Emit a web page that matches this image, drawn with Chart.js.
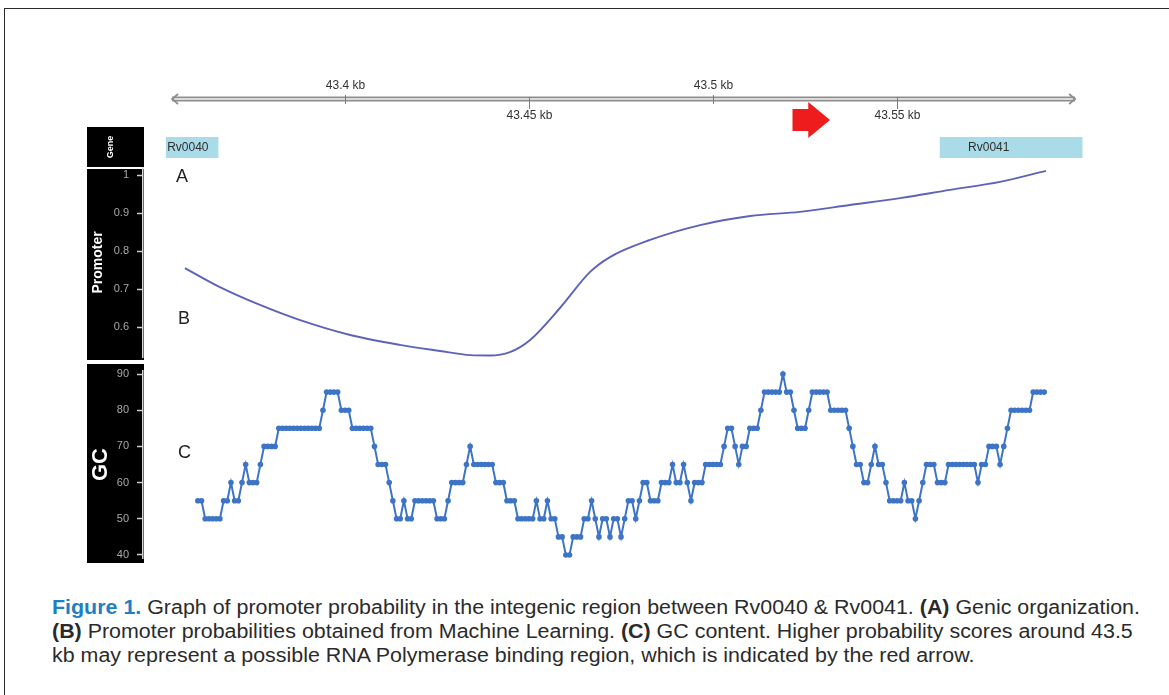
<!DOCTYPE html>
<html>
<head>
<meta charset="utf-8">
<script src="https://cdn.jsdelivr.net/npm/chart.js@4.4.1/dist/chart.umd.min.js"></script>
<style>
  html, body { margin: 0; padding: 0; background: #ffffff; }
  body { width: 1169px; height: 695px; position: relative; overflow: hidden; font-family: "Liberation Sans", Arial, sans-serif; }
  .frame-top { position: absolute; left: 4px; top: 8px; width: 1165px; height: 0; border-top: 1.5px solid #2a2a2a; }
  .frame-left { position: absolute; left: 4px; top: 8px; width: 0; height: 690px; border-left: 1.5px solid #2a2a2a; }
  canvas { position: absolute; left: 0; }
  .panel-letter { position: absolute; font-size: 18px; color: #222; line-height: 20px; }
  .ln { position: absolute; left: 52px; white-space: nowrap; font-size: 20px; line-height: 24px; color: #2b2b2b;
        font-family: "Liberation Sans Narrow", "Liberation Sans", Arial, sans-serif; transform-origin: 0 50%; }
  .ln b { font-weight: bold; }
  .ln .fig { color: #1f7fc4; }
</style>
</head>
<body>
<div class="frame-top"></div>
<div class="frame-left"></div>

<canvas id="geneTrack" width="1169" height="113" style="top:55px"></canvas>
<canvas id="promoterTrack" width="1169" height="198" style="top:164px"></canvas>
<canvas id="gcTrack" width="1169" height="206" style="top:362px"></canvas>

<div class="panel-letter" style="left:176px; top:166px">A</div>
<div class="panel-letter" style="left:178px; top:308px">B</div>
<div class="panel-letter" style="left:178px; top:442px">C</div>

<div class="ln" id="ln1" style="top:595px"><b class="fig">Figure 1.</b> Graph of promoter probability in the integenic region between Rv0040 &amp; Rv0041. <b>(A)</b> Genic organization.</div>
<div class="ln" style="top:619px"><b>(B)</b> Promoter probabilities obtained from Machine Learning. <b>(C)</b> GC content. Higher probability scores around 43.5</div>
<div class="ln" style="top:643px">kb may represent a possible RNA Polymerase binding region, which is indicated by the red arrow.</div>

<script>
// ---- genomic coordinates (kb) ----
const viewStart = 43.3451;
const viewEnd = 43.6038;
const rulerStart = 43.3530;
const rulerEnd = 43.5984;
const rulerTicks = [43.4, 43.45, 43.5, 43.55];
const rulerLabels = ['43.4 kb', '43.45 kb', '43.5 kb', '43.55 kb'];

// ---- genes ----
const geneNames = ['Rv0040', 'Rv0041'];
const geneStarts = [43.3514, 43.5617];
const geneEnds = [43.3655, 43.6003];

// ---- predicted RNA polymerase binding site ----
const arrowStart = 43.5216;
const arrowEnd = 43.5318;

// ---- promoter probability ----
const promoterPos = [43.3565, 43.3660, 43.3769, 43.3878, 43.4014, 43.4149, 43.4258, 43.4340, 43.4394,
                     43.4448, 43.4503, 43.4584, 43.4666, 43.4720, 43.4829, 43.4965, 43.5101, 43.5236,
                     43.5372, 43.5508, 43.5644, 43.5780, 43.5905];
const promoterProb = [0.755, 0.705, 0.658, 0.618, 0.579, 0.553, 0.537, 0.526, 0.525,
                      0.534, 0.566, 0.650, 0.745, 0.784, 0.829, 0.868, 0.892, 0.903,
                      0.921, 0.939, 0.961, 0.982, 1.011];
const promoterTicks = [0.6, 0.7, 0.8, 0.9, 1];

// ---- GC content (%), one window per base ----
const gcStart = 43.360;
const gcStep = 0.001;
const gcValues = [
  55,55,50,50,50,50,50,55,55,60,
  55,55,60,65,60,60,60,65,70,70,
  70,70,75,75,75,75,75,75,75,75,
  75,75,75,75,80,85,85,85,85,80,
  80,80,75,75,75,75,75,75,70,65,
  65,65,60,55,50,50,55,50,50,55,
  55,55,55,55,55,50,50,50,55,60,
  60,60,60,65,70,65,65,65,65,65,
  65,60,60,60,55,55,55,50,50,50,
  50,50,55,50,50,55,50,50,45,45,
  40,40,45,45,45,50,50,55,50,45,
  50,50,45,50,50,45,50,55,55,50,
  55,60,60,55,55,55,60,60,60,65,
  60,60,65,60,55,60,60,60,65,65,
  65,65,65,70,75,75,70,65,70,70,
  75,75,75,80,85,85,85,85,85,90,
  85,85,80,75,75,75,80,85,85,85,
  85,85,80,80,80,80,80,75,70,65,
  65,60,60,65,70,65,65,60,55,55,
  55,55,60,55,55,50,55,60,65,65,
  65,60,60,60,65,65,65,65,65,65,
  65,65,60,65,65,70,70,70,65,70,
  75,80,80,80,80,80,80,85,85,85,
  85
];
const gcTicks = [40, 50, 60, 70, 80, 90];

// ---- shared look ----
const LABEL_BOX_LEFT = 87;
const LABEL_BOX_RIGHT = 144;
const AXIS_WIDTH = 56;
const PAD_RIGHT = 74;
const FONT = '"Liberation Sans", Arial, sans-serif';

// black label column behind a track's y axis
function labelBox(top, bottom) {
  return {
    id: 'labelBox',
    beforeDraw(chart) {
      const ctx = chart.ctx;
      ctx.save();
      ctx.fillStyle = '#000';
      ctx.fillRect(LABEL_BOX_LEFT, top, LABEL_BOX_RIGHT - LABEL_BOX_LEFT, bottom - top);
      ctx.restore();
    }
  };
}

function leftAxis(min, max, ticks, title, titleSize, titlePad, fmt) {
  return {
    min: min, max: max,
    afterBuildTicks: s => { s.ticks = ticks.map(v => ({ value: v })); },
    afterFit: s => { s.width = AXIS_WIDTH; s.paddingTop = 0; s.paddingBottom = 0; },
    border: { display: true, color: '#d8d8d8', width: 1.5 },
    grid: { drawOnChartArea: false, drawTicks: true, color: '#cfcfcf', tickLength: 6, tickWidth: 1.5 },
    ticks: { color: '#a8a8a8', font: { family: FONT, size: 11 }, padding: 8, callback: fmt },
    title: { display: true, text: title, color: '#ffffff', font: { family: FONT, size: titleSize, weight: 'bold' }, padding: { top: titlePad, bottom: 0 } }
  };
}

const baseOpts = {
  responsive: false,
  animation: false,
  devicePixelRatio: 1,
  plugins: { legend: { display: false }, tooltip: { enabled: false } }
};

// ---- gene track with ruler and binding-site arrow ----
const rulerPlugin = {
  id: 'ruler',
  beforeDraw(chart) {
    const ctx = chart.ctx;
    ctx.save();
    ctx.fillStyle = '#000';
    ctx.fillRect(LABEL_BOX_LEFT, 72, LABEL_BOX_RIGHT - LABEL_BOX_LEFT, 40);
    ctx.translate(111, 92);
    ctx.rotate(-Math.PI / 2);
    ctx.fillStyle = '#fff';
    ctx.font = 'bold 9px ' + FONT;
    ctx.textAlign = 'center';
    ctx.textBaseline = 'middle';
    ctx.fillText('Gene', 0, 0);
    ctx.restore();
  },
  afterDatasetsDraw(chart) {
    const ctx = chart.ctx;
    const x = chart.scales.x;
    const y0 = 44;
    const xa = x.getPixelForValue(rulerStart);
    const xb = x.getPixelForValue(rulerEnd);
    ctx.save();
    // double-stroked ruler line
    ctx.lineCap = 'butt';
    ctx.strokeStyle = '#8e8e8e';
    ctx.lineWidth = 5;
    ctx.beginPath(); ctx.moveTo(xa, y0); ctx.lineTo(xb, y0); ctx.stroke();
    ctx.strokeStyle = '#dadada';
    ctx.lineWidth = 2;
    ctx.beginPath(); ctx.moveTo(xa + 2, y0); ctx.lineTo(xb - 2, y0); ctx.stroke();
    // end arrowheads
    ctx.strokeStyle = '#8e8e8e';
    ctx.lineWidth = 1.8;
    ctx.beginPath();
    ctx.moveTo(xa + 6, y0 - 5); ctx.lineTo(xa, y0); ctx.lineTo(xa + 6, y0 + 5);
    ctx.moveTo(xb - 6, y0 - 5); ctx.lineTo(xb, y0); ctx.lineTo(xb - 6, y0 + 5);
    ctx.stroke();
    // ticks and labels, alternating above / below
    ctx.font = '12px ' + FONT;
    ctx.fillStyle = '#333';
    ctx.textAlign = 'center';
    ctx.textBaseline = 'middle';
    rulerTicks.forEach((v, k) => {
      const px = Math.round(x.getPixelForValue(v)) + 0.5;
      const above = k % 2 === 0;
      ctx.strokeStyle = '#7a7a7a';
      ctx.lineWidth = 1;
      ctx.beginPath();
      if (above) { ctx.moveTo(px, y0 - 4); ctx.lineTo(px, y0 + 5); }
      else { ctx.moveTo(px, y0 - 2); ctx.lineTo(px, y0 + 10); }
      ctx.stroke();
      ctx.fillText(rulerLabels[k], px, above ? 31 : 61);
    });
    // gene names
    ctx.font = '12px ' + FONT;
    ctx.fillStyle = '#2f2f2f';
    ctx.textAlign = 'left';
    ctx.fillText(geneNames[0], x.getPixelForValue(geneStarts[0]) + 1, 93);
    ctx.fillText(geneNames[1], x.getPixelForValue(geneStarts[1]) + 28, 93);
    // red arrow at the putative binding region
    const a0 = x.getPixelForValue(arrowStart);
    const a1 = x.getPixelForValue(arrowEnd);
    const neck = a0 + (a1 - a0) * 0.42;
    const cy = 65;
    ctx.fillStyle = '#ee1c1c';
    ctx.beginPath();
    ctx.moveTo(a0, cy - 11);
    ctx.lineTo(neck, cy - 11);
    ctx.lineTo(neck, cy - 18);
    ctx.lineTo(a1, cy);
    ctx.lineTo(neck, cy + 18);
    ctx.lineTo(neck, cy + 11);
    ctx.lineTo(a0, cy + 11);
    ctx.closePath();
    ctx.fill();
    ctx.restore();
  }
};

new Chart(document.getElementById('geneTrack'), {
  type: 'bar',
  data: {
    labels: ['Gene'],
    datasets: geneNames.map((g, k) => ({
      label: g,
      data: [[geneStarts[k], geneEnds[k]]],
      backgroundColor: '#a9dbe8',
      borderWidth: 0,
      borderSkipped: false,
      grouped: false,
      barThickness: 21
    }))
  },
  options: Object.assign({}, baseOpts, {
    indexAxis: 'y',
    layout: { padding: { left: LABEL_BOX_LEFT + AXIS_WIDTH, right: PAD_RIGHT, top: 82, bottom: 10 } },
    scales: {
      x: { type: 'linear', min: viewStart, max: viewEnd, display: false },
      y: { display: false }
    }
  }),
  plugins: [rulerPlugin]
});

// ---- promoter probability track ----
new Chart(document.getElementById('promoterTrack'), {
  type: 'line',
  data: {
    datasets: [{
      data: promoterPos.map((p, k) => ({ x: p, y: promoterProb[k] })),
      borderColor: '#5d63b8',
      borderWidth: 1.9,
      pointRadius: 0,
      cubicInterpolationMode: 'monotone',
      fill: false
    }]
  },
  options: Object.assign({}, baseOpts, {
    layout: { padding: { left: LABEL_BOX_LEFT, right: PAD_RIGHT, top: 3.4, bottom: 4.6 } },
    scales: {
      x: { type: 'linear', min: viewStart, max: viewEnd, display: false },
      y: leftAxis(0.52, 1.02, promoterTicks, 'Promoter', 14, 3, v => (v === 1 ? '1' : v.toFixed(1)))
    }
  }),
  plugins: [labelBox(5, 196)]
});

// ---- GC content track ----
new Chart(document.getElementById('gcTrack'), {
  type: 'line',
  data: {
    datasets: [{
      data: gcValues.map((v, k) => ({ x: gcStart + k * gcStep, y: v })),
      borderColor: '#3d74c6',
      backgroundColor: '#3d74c6',
      borderWidth: 2,
      pointRadius: 2.8,
      pointBorderWidth: 0,
      tension: 0,
      fill: false
    }]
  },
  options: Object.assign({}, baseOpts, {
    layout: { padding: { left: LABEL_BOX_LEFT, right: PAD_RIGHT, top: 8.4, bottom: 9.4 } },
    scales: {
      x: { type: 'linear', min: viewStart, max: viewEnd, display: false },
      y: leftAxis(39, 91, gcTicks, 'GC', 22, 1, v => String(v))
    }
  }),
  plugins: [labelBox(2, 201)]
});

// ---- caption: fit the condensed text block to the column width ----
(function () {
  const lines = document.querySelectorAll('.ln');
  const w = document.getElementById('ln1').getBoundingClientRect().width;
  const s = 1088 / w;
  lines.forEach(l => { l.style.transform = 'scaleX(' + s.toFixed(4) + ')'; });
})();
</script>
</body>
</html>
